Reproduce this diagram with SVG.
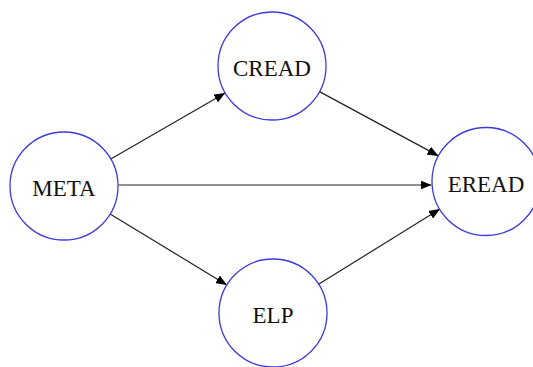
<svg xmlns="http://www.w3.org/2000/svg" width="533" height="367" viewBox="0 0 533 367">
<style>
.node circle{fill:#fff;stroke:#3a3ae0;stroke-width:1.3}
.node text{font-family:"Liberation Serif",serif;font-size:23px;fill:#111;text-anchor:middle}
.edges line{stroke:#222;stroke-width:1.2;marker-end:url(#arr)}
</style>
<defs>
<marker id="arr" markerUnits="userSpaceOnUse" markerWidth="12" markerHeight="9" refX="11" refY="4.5" orient="auto">
<path d="M0,0 L11,4.5 L0,9 z" fill="#000"/>
</marker>
</defs>
<rect width="533" height="367" fill="#fff"/>
<g class="edges">
<line x1="110.8" y1="159" x2="225.2" y2="93"/>
<line x1="118.5" y1="185" x2="431.5" y2="185"/>
<line x1="110.1" y1="214" x2="226.9" y2="285"/>
<line x1="319.5" y1="91.6" x2="438.5" y2="155.9"/>
<line x1="319" y1="284" x2="440" y2="209"/>
</g>
<g id="META" class="node"><circle cx="64" cy="186" r="54"/><text x="64" y="196">META</text></g>
<g id="CREAD" class="node"><circle cx="272" cy="66" r="54"/><text x="272" y="76">CREAD</text></g>
<g id="EREAD" class="node"><circle cx="486" cy="181.5" r="54"/><text x="486" y="192">EREAD</text></g>
<g id="ELP" class="node"><circle cx="273" cy="313" r="54"/><text x="273" y="323">ELP</text></g>
</svg>
